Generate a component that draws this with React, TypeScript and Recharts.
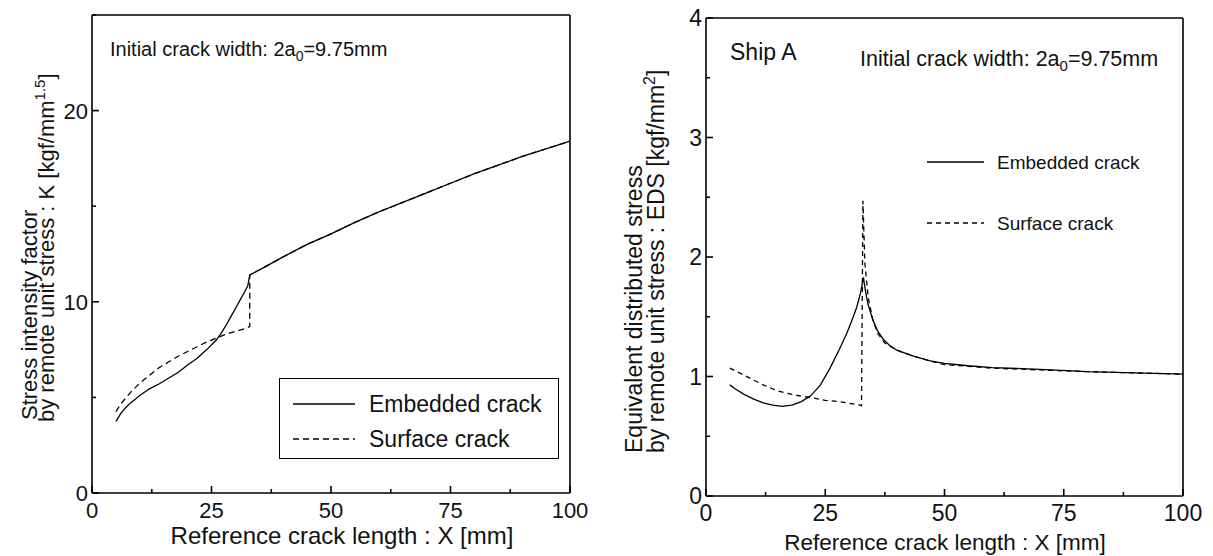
import React from 'react';
import { LineChart, Line, XAxis, YAxis, Legend } from 'recharts';

const FONT = '"Liberation Sans", Arial, Helvetica, sans-serif';

// left panel: stress intensity factor K
const kEmbeddedX = [5, 6, 7, 8, 10, 12, 14, 16, 18, 20, 22, 24, 26, 27, 28, 29, 30, 31, 32, 32.6, 33, 36, 40, 45, 50, 55, 60, 65, 70, 75, 80, 85, 90, 95, 100];
const kEmbeddedY = [3.75, 4.15, 4.45, 4.7, 5.1, 5.45, 5.7, 6.0, 6.3, 6.7, 7.05, 7.5, 8.0, 8.35, 8.75, 9.2, 9.65, 10.1, 10.55, 10.85, 11.4, 11.8, 12.35, 13.0, 13.55, 14.15, 14.7, 15.2, 15.7, 16.2, 16.7, 17.15, 17.6, 18.0, 18.4];
const kSurfaceX = [5, 6, 7, 8, 10, 12, 14, 16, 18, 20, 22, 24, 26, 28, 30, 32, 33, 33, 36, 40, 45, 50, 55, 60, 65, 70, 75, 80, 85, 90, 95, 100];
const kSurfaceY = [4.25, 4.65, 4.95, 5.25, 5.75, 6.15, 6.55, 6.85, 7.15, 7.4, 7.65, 7.9, 8.1, 8.3, 8.45, 8.6, 8.7, 11.4, 11.8, 12.35, 13.0, 13.55, 14.15, 14.7, 15.2, 15.7, 16.2, 16.7, 17.15, 17.6, 18.0, 18.4];

// right panel: equivalent distributed stress EDS
const eEmbeddedX = [5, 6, 8, 10, 12, 14, 16, 18, 20, 22, 24, 26, 28, 29.5, 30.5, 31.6, 32.4, 33, 33.5, 34, 35, 36, 37.2, 38.5, 40, 43.5, 47, 50, 55, 60, 70, 80, 90, 100];
const eEmbeddedY = [0.93, 0.9, 0.85, 0.81, 0.78, 0.76, 0.75, 0.76, 0.79, 0.84, 0.93, 1.07, 1.23, 1.36, 1.46, 1.58, 1.7, 1.83, 1.7, 1.6, 1.47, 1.38, 1.31, 1.26, 1.22, 1.17, 1.13, 1.11, 1.09, 1.075, 1.06, 1.04, 1.03, 1.02];
const eSurfaceX = [5, 8, 10, 12, 15, 18, 20, 22.5, 25, 28, 30, 32, 32.6, 32.9, 33.3, 34, 35, 36, 37.5, 40, 43.5, 47, 50, 55, 60, 70, 80, 90, 100];
const eSurfaceY = [1.07, 1.01, 0.97, 0.93, 0.88, 0.85, 0.835, 0.82, 0.8, 0.79, 0.775, 0.765, 0.755, 2.47, 1.95, 1.66, 1.47, 1.36, 1.28, 1.22, 1.17, 1.13, 1.1, 1.085, 1.07, 1.055, 1.04, 1.03, 1.02];

const xTicks = [0, 12.5, 25, 37.5, 50, 62.5, 75, 87.5, 100];
const kTicks = [0, 5, 10, 15, 20, 25];
const eTicks = [0, 0.5, 1, 1.5, 2, 2.5, 3, 3.5, 4];

const zip = (xs: number[], ys: number[]) => xs.map((x, i) => ({ x, y: ys[i] }));

const axisLine = { stroke: '#000', strokeWidth: 1.6 };

const isMajor = (v: number, step: number) => Math.abs(v / step - Math.round(v / step)) < 1e-6;

// inward tick mark (longer on majors) plus a label on the majors of the bottom / left axes
const makeTick = (side: string, step: number, fontSize: number) => (props: any) => {
  const { x, y, payload } = props;
  const v = payload.value;
  const major = isMajor(v, step);
  const len = major ? 7 : 4;
  if (side === 'bottom') {
    return (
      <g>
        <path d={`M${x},${y}L${x},${y - len}`} stroke="#000" strokeWidth={1.6} fill="none" />
        {major && <text x={x} y={y + 25} textAnchor="middle" fontSize={fontSize} fontFamily={FONT} fill="#111">{v}</text>}
      </g>
    );
  }
  if (side === 'left') {
    return (
      <g>
        <path d={`M${x},${y}L${x + len},${y}`} stroke="#000" strokeWidth={1.6} fill="none" />
        {major && <text x={x - 4} y={y + fontSize * 0.36} textAnchor="end" fontSize={fontSize} fontFamily={FONT} fill="#111">{v}</text>}
      </g>
    );
  }
  if (side === 'top') return <path d={`M${x},${y}L${x},${y + len}`} stroke="#000" strokeWidth={1.6} fill="none" />;
  return <path d={`M${x},${y}L${x - len},${y}`} stroke="#000" strokeWidth={1.6} fill="none" />;
};

const LeftLegend = () => (
  <div style={{ width: 280, height: 81, border: '1px solid #000', background: '#fff', boxSizing: 'border-box', position: 'relative' }}>
    <svg width={280} height={81} style={{ position: 'absolute', left: -1, top: -1 }}>
      <line x1={14} y1={26} x2={76} y2={26} stroke="#000" strokeWidth={1.3} />
      <line x1={14} y1={61} x2={76} y2={61} stroke="#000" strokeWidth={1.3} strokeDasharray="6 4" />
      <text x={90} y={34} fontSize={23} fontFamily={FONT} fill="#111">Embedded crack</text>
      <text x={90} y={69} fontSize={23} fontFamily={FONT} fill="#111">Surface crack</text>
    </svg>
  </div>
);

const RightLegend = () => (
  <svg width={250} height={110}>
    <line x1={7} y1={22} x2={64} y2={22} stroke="#000" strokeWidth={1.3} />
    <line x1={7} y1={83} x2={64} y2={83} stroke="#000" strokeWidth={1.3} strokeDasharray="5 4" />
    <text x={77} y={29} fontSize={19} fontFamily={FONT} fill="#111">Embedded crack</text>
    <text x={77} y={90} fontSize={19} fontFamily={FONT} fill="#111">Surface crack</text>
  </svg>
);

const KChart = () => (
  <LineChart width={600} height={556} margin={{ top: 14, right: 29, left: 0, bottom: 0 }}>
    <XAxis dataKey="x" type="number" domain={[0, 100]} ticks={xTicks} interval={0} height={63}
      axisLine={axisLine} tickLine={false} tickSize={0} tickMargin={0} tick={makeTick('bottom', 25, 22)} />
    <XAxis xAxisId="t" orientation="top" dataKey="x" type="number" domain={[0, 100]} ticks={xTicks} interval={0} height={1}
      axisLine={axisLine} tickLine={false} tickSize={0} tickMargin={0} tick={makeTick('top', 25, 22)} />
    <YAxis type="number" domain={[0, 25]} ticks={kTicks} interval={0} width={92}
      axisLine={axisLine} tickLine={false} tickSize={0} tickMargin={0} tick={makeTick('left', 10, 22)} />
    <YAxis yAxisId="r" orientation="right" type="number" domain={[0, 25]} ticks={kTicks} interval={0} width={1}
      axisLine={axisLine} tickLine={false} tickSize={0} tickMargin={0} tick={makeTick('right', 10, 22)} />
    <Line data={zip(kEmbeddedX, kEmbeddedY)} dataKey="y" name="Embedded crack" type="linear" stroke="#000" strokeWidth={1.3} dot={false} activeDot={false} isAnimationActive={false} />
    <Line data={zip(kSurfaceX, kSurfaceY)} dataKey="y" name="Surface crack" type="linear" stroke="#000" strokeWidth={1.3} strokeDasharray="6 4" dot={false} activeDot={false} isAnimationActive={false} />
    <Legend layout="vertical" align="center" verticalAlign="middle" content={() => <LeftLegend />}
      wrapperStyle={{ left: 279, top: 378, width: 280, height: 81 }} />
  </LineChart>
);

const EChart = () => (
  <LineChart width={613} height={556} margin={{ top: 17, right: 29, left: 0, bottom: 0 }}>
    <XAxis dataKey="x" type="number" domain={[0, 100]} ticks={xTicks} interval={0} height={60}
      axisLine={axisLine} tickLine={false} tickSize={0} tickMargin={0} tick={makeTick('bottom', 25, 23)} />
    <XAxis xAxisId="t" orientation="top" dataKey="x" type="number" domain={[0, 100]} ticks={xTicks} interval={0} height={1}
      axisLine={axisLine} tickLine={false} tickSize={0} tickMargin={0} tick={makeTick('top', 25, 23)} />
    <YAxis type="number" domain={[0, 4]} ticks={eTicks} interval={0} width={106}
      axisLine={axisLine} tickLine={false} tickSize={0} tickMargin={0} tick={makeTick('left', 1, 23)} />
    <YAxis yAxisId="r" orientation="right" type="number" domain={[0, 4]} ticks={eTicks} interval={0} width={1}
      axisLine={axisLine} tickLine={false} tickSize={0} tickMargin={0} tick={makeTick('right', 1, 23)} />
    <Line data={zip(eEmbeddedX, eEmbeddedY)} dataKey="y" name="Embedded crack" type="linear" stroke="#000" strokeWidth={1.3} dot={false} activeDot={false} isAnimationActive={false} />
    <Line data={zip(eSurfaceX, eSurfaceY)} dataKey="y" name="Surface crack" type="linear" stroke="#000" strokeWidth={1.3} strokeDasharray="5 4" dot={false} activeDot={false} isAnimationActive={false} />
    <Legend layout="vertical" align="center" verticalAlign="middle" content={() => <RightLegend />}
      wrapperStyle={{ left: 320, top: 140, width: 250, height: 110 }} />
  </LineChart>
);

const Titles = () => (
  <svg width={1213} height={556} style={{ position: 'absolute', left: 0, top: 0, pointerEvents: 'none' }} fontFamily={FONT} fill="#111">
    {/* left panel */}
    <text x={110} y={56} fontSize={20}>
      Initial crack width: 2a<tspan dy={5} fontSize={14}>0</tspan><tspan dy={-5}>=9.75mm</tspan>
    </text>
    <text x={342} y={544} fontSize={24} textAnchor="middle">Reference crack length : X [mm]</text>
    <text transform="rotate(-90)" x={-420} y={37} fontSize={22}>Stress intensity factor</text>
    <text transform="rotate(-90)" x={-422} y={54} fontSize={22}>
      by remote unit stress : K [kgf/mm<tspan dy={-9} fontSize={15}>1.5</tspan><tspan dy={9}>]</tspan>
    </text>
    {/* right panel */}
    <text x={730} y={60} fontSize={23}>Ship A</text>
    <text x={860} y={66} fontSize={21.5}>
      Initial crack width: 2a<tspan dy={5} fontSize={15}>0</tspan><tspan dy={-5}>=9.75mm</tspan>
    </text>
    <text x={945} y={550} fontSize={22.5} textAnchor="middle">Reference crack length : X [mm]</text>
    <text transform="rotate(-90)" x={-453} y={642} fontSize={23}>Equivalent distributed stress</text>
    <text transform="rotate(-90)" x={-453} y={664} fontSize={23}>
      by remote unit stress : EDS [kgf/mm<tspan dy={-9} fontSize={16}>2</tspan><tspan dy={9}>]</tspan>
    </text>
  </svg>
);

export default function App() {
  return (
    <div style={{ position: 'absolute', left: 0, top: 0, width: 1213, height: 556, background: '#fff' }}>
      <Titles />
      <div style={{ position: 'absolute', left: 0, top: 0 }}>
        <KChart />
      </div>
      <div style={{ position: 'absolute', left: 600, top: 0 }}>
        <EChart />
      </div>
    </div>
  );
}
